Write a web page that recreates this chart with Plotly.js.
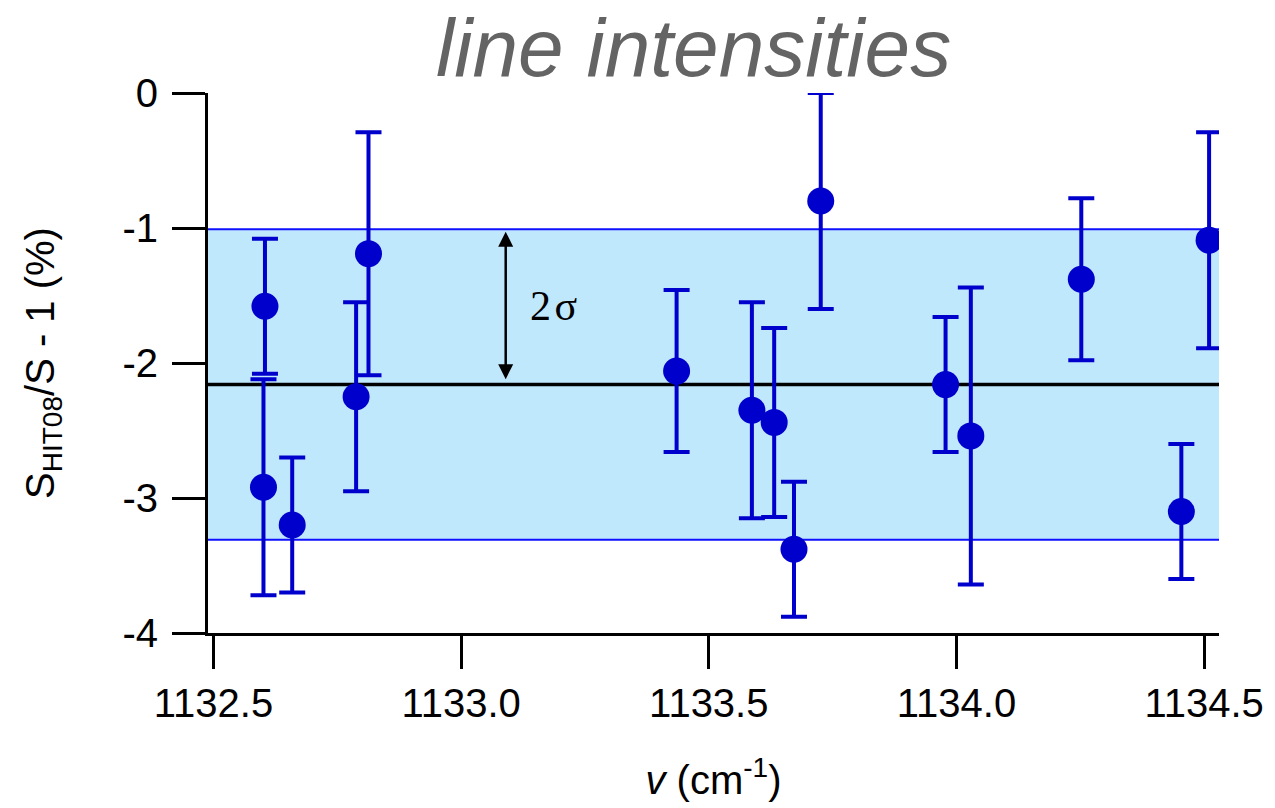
<!DOCTYPE html>
<html>
<head>
<meta charset="utf-8">
<script src="https://cdn.plot.ly/plotly-3.0.1.min.js"></script>
<style>html,body{margin:0;padding:0;background:#fff;}#chart{width:1275px;height:808px;}</style>
</head>
<body>
<div id="chart"></div>
<script>
// wavenumber (cm^-1) of each line
const wavenumbers = [1132.604, 1132.601, 1132.659, 1132.788, 1132.813, 1133.435, 1133.587, 1133.632, 1133.672, 1133.726, 1133.978, 1134.029, 1134.252, 1134.454, 1134.510];
// S_HIT08/S - 1 (%)
const ratios = [-1.58, -2.92, -3.20, -2.25, -1.19, -2.06, -2.35, -2.44, -3.38, -0.80, -2.16, -2.54, -1.38, -3.10, -1.09];
// error bars (%)
const errors = [0.5, 0.8, 0.5, 0.7, 0.9, 0.6, 0.8, 0.7, 0.5, 0.8, 0.5, 1.1, 0.6, 0.5, 0.8];
// mean and band limits (%)
const meanValue = -2.16;
const bandTop = -1.01;
const bandBottom = -3.31;
// ticks
const xTickVals = [1132.5, 1133.0, 1133.5, 1134.0, 1134.5];
const xTickText = ["1132.5", "1133.0", "1133.5", "1134.0", "1134.5"];
const yTickVals = [0, -1, -2, -3, -4];
const yTickText = ["0", "-1", "-2", "-3", "-4"];

const blue = '#0000cc';
const trace = {
  x: wavenumbers, y: ratios, type: 'scatter', mode: 'markers',
  marker: {color: blue, size: 27},
  error_y: {type: 'data', array: errors, visible: true, color: blue, thickness: 4, width: 13},
  hoverinfo: 'x+y', showlegend: false
};

const font = 'Liberation Sans, Arial, Helvetica, sans-serif';
const layout = {
  width: 1275, height: 808,
  margin: {l: 208, r: 56, t: 93, b: 175, pad: 0},
  paper_bgcolor: '#fff', plot_bgcolor: 'rgba(0,0,0,0)',
  showlegend: false,
  title: {text: 'line intensities', font: {family: font, size: 82, color: '#646464', style: 'italic'},
          x: 0.544, xref: 'container', xanchor: 'center', y: 0.942, yref: 'container', yanchor: 'middle'},
  xaxis: {
    range: [1132.489, 1134.530], showgrid: false, zeroline: false,
    showline: true, linecolor: '#000', linewidth: 3,
    ticks: 'outside', ticklen: 33, tickwidth: 3, tickcolor: '#000',
    tickvals: xTickVals, ticktext: xTickText,
    tickfont: {family: font, size: 40, color: '#000'},
    title: {text: '<i>v</i> (cm<sup>-1</sup>)', font: {family: font, size: 40, color: '#000'}, standoff: 42},
    automargin: false
  },
  yaxis: {
    range: [-4, 0], showgrid: false, zeroline: false,
    showline: true, linecolor: '#000', linewidth: 3,
    ticks: 'outside', ticklen: 33, tickwidth: 3, tickcolor: '#000',
    tickvals: yTickVals, ticktext: yTickText, ticklabelstandoff: 6,
    tickfont: {family: font, size: 40, color: '#000'},
    title: {text: 'S<sub>HIT08</sub>/S - 1 (%)', font: {family: font, size: 40, color: '#000'}, standoff: 56},
    automargin: false
  },
  shapes: [
    {type: 'rect', xref: 'paper', yref: 'y', x0: 0, x1: 1, y0: bandBottom, y1: bandTop,
     fillcolor: '#c0e8fc', line: {width: 0}, layer: 'below'},
    {type: 'line', xref: 'paper', yref: 'y', x0: 0, x1: 1, y0: bandTop, y1: bandTop,
     line: {color: '#1010ff', width: 2}, layer: 'below'},
    {type: 'line', xref: 'paper', yref: 'y', x0: 0, x1: 1, y0: bandBottom, y1: bandBottom,
     line: {color: '#1010ff', width: 2}, layer: 'below'},
    {type: 'line', xref: 'paper', yref: 'y', x0: 0, x1: 1, y0: meanValue, y1: meanValue,
     line: {color: '#000', width: 3.5}, layer: 'below'}
  ],
  annotations: [
    {x: 1133.09, y: -1.027, ax: 1133.09, ay: -2.131, xref: 'x', yref: 'y', axref: 'x', ayref: 'y',
     text: '', showarrow: true, arrowside: 'end+start', arrowhead: 2, startarrowhead: 2,
     arrowsize: 1.2, startarrowsize: 1.2, arrowwidth: 2.5, arrowcolor: '#000', standoff: 0, startstandoff: 0},
    {x: 1133.135, y: -1.58, xref: 'x', yref: 'y', xanchor: 'left', yanchor: 'middle',
     text: '2\u200Aσ', showarrow: false,
     font: {family: 'Liberation Serif, Times New Roman, serif', size: 42, color: '#000'}}
  ]
};

Plotly.newPlot('chart', [trace], layout, {displayModeBar: false, staticPlot: true});
</script>
</body>
</html>
